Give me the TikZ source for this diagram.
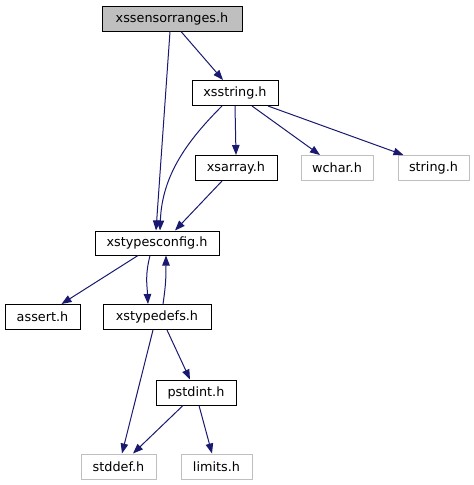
\documentclass[tikz,border=0pt]{standalone}
\usepackage{fontspec}
\setmainfont{DejaVu Sans}
\usetikzlibrary{arrows.meta}
\definecolor{edgeblue}{HTML}{191970}
\definecolor{extgray}{HTML}{BFBFBF}
\begin{document}
\begin{tikzpicture}[x=1pt,y=-1pt,
  box/.style={draw=black,line width=1pt,minimum height=25pt,inner sep=0pt,font=\fontsize{12.8}{15}\selectfont,fill=white},
  extbox/.style={box,draw=extgray},
  mainbox/.style={box,fill=extgray},
  dep/.style={draw=edgeblue,line width=1pt,-{Triangle[length=10pt,width=7.5pt]},color=edgeblue}]
\useasboundingbox (0,0) rectangle (474,485);
\node[mainbox,minimum width=140pt] (top) at (172,18.5) {xssensorranges.h};
\node[box,minimum width=86pt] (xsstring) at (235,93) {xsstring.h};
\node[box,minimum width=82pt] (xsarray) at (236,168) {xsarray.h};
\node[extbox,minimum width=72pt] (wchar) at (337,168) {wchar.h};
\node[extbox,minimum width=71pt] (string) at (433.5,168) {string.h};
\node[box,minimum width=124pt,minimum height=24pt] (xtc) at (157,243) {xstypesconfig.h};
\node[box,minimum width=75pt] (assert) at (42.5,317) {assert.h};
\node[box,minimum width=108pt] (xtd) at (157,317) {xstypedefs.h};
\node[box,minimum width=80pt] (pstdint) at (196,392.5) {pstdint.h};
\node[extbox,minimum width=75pt] (stddef) at (118.5,466.5) {stddef.h};
\node[extbox,minimum width=71pt] (limits) at (216.5,466.5) {limits.h};

\draw[dep] ([xshift=-2pt]top.south) -- ([xshift=-1pt]xtc.north);
\draw[dep] ([xshift=9pt]top.south) -- ([xshift=-12pt]xsstring.north);
\draw[dep] ([xshift=-13pt]xsstring.south) .. controls +(-35,35) and +(2,-55) .. ([xshift=3pt]xtc.north);
\draw[dep] (xsstring.south) -- (xsarray.north);
\draw[dep] ([xshift=17pt]xsstring.south) -- ([xshift=-17pt]wchar.north);
\draw[dep] ([xshift=33pt]xsstring.south) -- ([xshift=-30pt]string.north);
\draw[dep] ([xshift=-14pt]xsarray.south) -- ([xshift=18pt]xtc.north);
\draw[dep] ([xshift=-19pt]xtc.south) -- ([xshift=19pt]assert.north);
\draw[dep] ([xshift=-7pt]xtc.south) .. controls +(-5,20) and +(-1,-20) .. ([xshift=-9pt]xtd.north);
\draw[dep] ([xshift=6pt]xtd.north) .. controls +(3,-20) and +(0,20) .. ([xshift=9pt]xtc.south);
\draw[dep] ([xshift=-4pt]xtd.south) -- ([xshift=3.5pt]stddef.north);
\draw[dep] ([xshift=10pt]xtd.south) -- ([xshift=-6pt]pstdint.north);
\draw[dep] ([xshift=-13pt]pstdint.south) -- ([xshift=14.5pt]stddef.north);
\draw[dep] ([xshift=3pt]pstdint.south) -- ([xshift=-4.5pt]limits.north);
\end{tikzpicture}
\end{document}
